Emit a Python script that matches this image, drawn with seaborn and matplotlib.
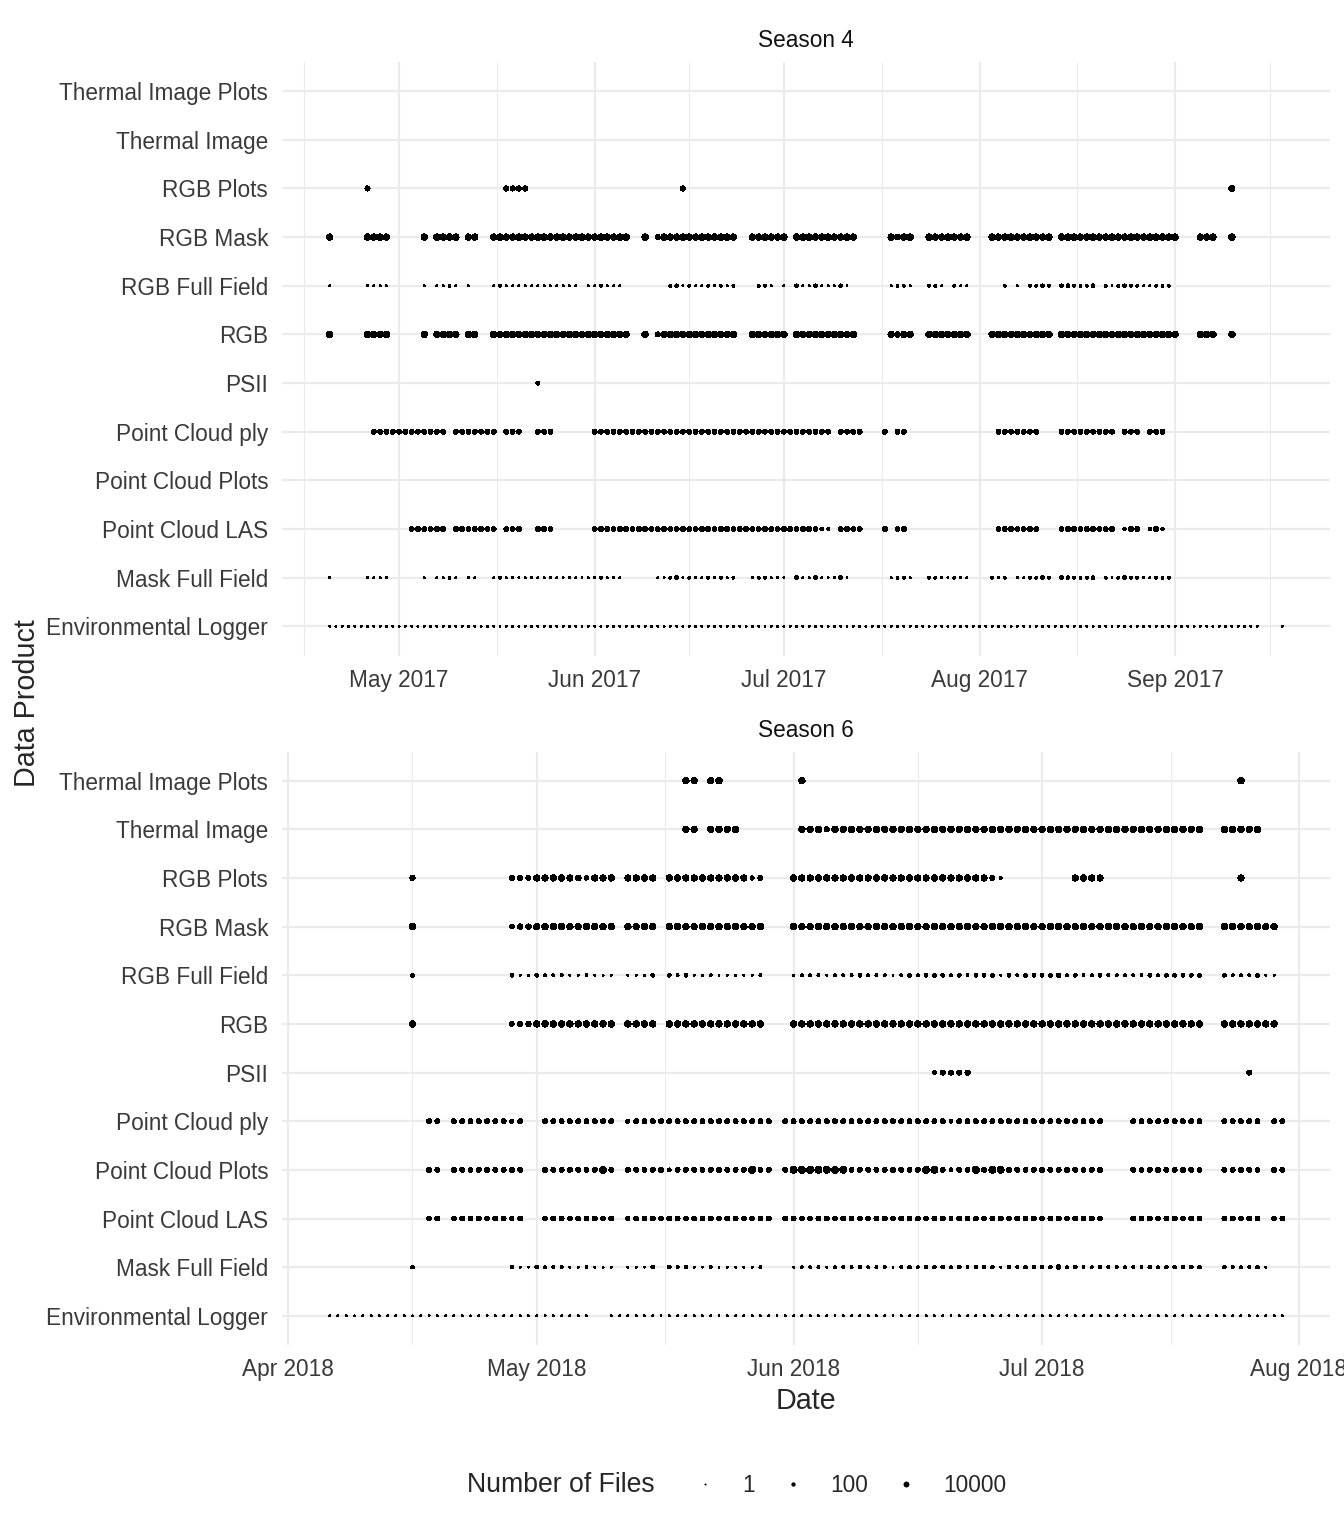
import matplotlib
matplotlib.use("Agg")
import matplotlib.pyplot as plt
import matplotlib.dates as mdates
from matplotlib.lines import Line2D
import numpy as np
import pandas as pd
import seaborn as sns

# y order, bottom to top
PRODUCTS = [
    "Environmental Logger", "Mask Full Field", "Point Cloud LAS",
    "Point Cloud Plots", "Point Cloud ply", "PSII", "RGB",
    "RGB Full Field", "RGB Mask", "RGB Plots", "Thermal Image",
    "Thermal Image Plots",
]
SEASONS = ["Season 4", "Season 6"]
LEGEND_BREAKS = [1, 100, 10000]

# runs of days: (first day, last day, files per day)

# ---- Season 4 (2017)
S4_ENV_LOGGER = [("2017-04-20", "2017-09-14", 1), ("2017-09-18", "2017-09-18", 1)]

S4_MASK_FULL_FIELD = [
    ("2017-04-20", "2017-04-20", 1), ("2017-04-26", "2017-04-29", 1),
    ("2017-05-05", "2017-05-05", 1), ("2017-05-07", "2017-05-10", 1),
    ("2017-05-12", "2017-05-13", 1), ("2017-05-16", "2017-06-05", 1),
    ("2017-06-11", "2017-06-23", 1), ("2017-06-26", "2017-07-01", 1),
    ("2017-07-03", "2017-07-11", 1), ("2017-07-18", "2017-07-21", 1),
    ("2017-07-24", "2017-07-30", 1), ("2017-08-03", "2017-08-05", 1),
    ("2017-08-07", "2017-08-12", 1), ("2017-08-14", "2017-08-19", 1),
    ("2017-08-21", "2017-08-31", 1),
]
S4_RGB_FULL_FIELD = [
    ("2017-04-20", "2017-04-20", 1), ("2017-04-26", "2017-04-29", 1),
    ("2017-05-05", "2017-05-05", 1), ("2017-05-07", "2017-05-10", 1),
    ("2017-05-12", "2017-05-12", 1), ("2017-05-16", "2017-05-29", 1),
    ("2017-05-31", "2017-06-05", 1), ("2017-06-13", "2017-06-23", 1),
    ("2017-06-27", "2017-06-29", 1), ("2017-07-01", "2017-07-01", 1),
    ("2017-07-03", "2017-07-11", 1), ("2017-07-18", "2017-07-21", 1),
    ("2017-07-24", "2017-07-26", 1), ("2017-07-28", "2017-07-30", 1),
    ("2017-08-05", "2017-08-05", 1), ("2017-08-07", "2017-08-07", 1),
    ("2017-08-09", "2017-08-12", 1), ("2017-08-14", "2017-08-19", 1),
    ("2017-08-21", "2017-08-31", 1),
]
# full field days that stand out from the 1-file days
S4_FULL_FIELD_DAYS = {
    "2017-05-09": 4, "2017-05-17": 4, "2017-06-02": 4, "2017-06-13": 4,
    "2017-06-14": 20, "2017-06-16": 4, "2017-06-19": 4, "2017-06-21": 4,
    "2017-06-23": 4, "2017-06-27": 4, "2017-06-28": 4, "2017-07-03": 20,
    "2017-07-06": 20, "2017-07-10": 20, "2017-07-19": 4, "2017-07-20": 4,
    "2017-07-24": 4, "2017-07-25": 4, "2017-07-28": 4, "2017-08-03": 4,
    "2017-08-05": 4, "2017-08-09": 4, "2017-08-10": 4, "2017-08-11": 20,
    "2017-08-12": 4, "2017-08-14": 20, "2017-08-15": 20, "2017-08-16": 4,
    "2017-08-17": 4, "2017-08-18": 4, "2017-08-19": 20, "2017-08-21": 4,
    "2017-08-23": 4, "2017-08-24": 20, "2017-08-25": 4, "2017-08-26": 4,
    "2017-08-29": 4, "2017-08-30": 4, "2017-08-31": 4,
}

S4_PC_LAS = [
    ("2017-05-03", "2017-05-08", 500), ("2017-05-10", "2017-05-16", 500),
    ("2017-05-18", "2017-05-20", 500), ("2017-05-23", "2017-05-25", 500),
    ("2017-06-01", "2017-07-06", 500), ("2017-07-07", "2017-07-07", 30),
    ("2017-07-08", "2017-07-08", 4), ("2017-07-10", "2017-07-13", 500),
    ("2017-07-17", "2017-07-17", 500), ("2017-07-19", "2017-07-20", 500),
    ("2017-08-04", "2017-08-10", 500), ("2017-08-14", "2017-08-22", 500),
    ("2017-08-24", "2017-08-24", 10), ("2017-08-25", "2017-08-26", 500),
    ("2017-08-28", "2017-08-28", 10), ("2017-08-29", "2017-08-29", 500),
    ("2017-08-30", "2017-08-30", 10),
]
S4_PC_PLY = [
    ("2017-04-27", "2017-05-08", 500), ("2017-05-10", "2017-05-16", 500),
    ("2017-05-18", "2017-05-20", 500), ("2017-05-23", "2017-05-25", 500),
    ("2017-06-01", "2017-07-08", 500), ("2017-07-10", "2017-07-13", 500),
    ("2017-07-17", "2017-07-17", 500), ("2017-07-19", "2017-07-20", 500),
    ("2017-08-04", "2017-08-10", 500), ("2017-08-14", "2017-08-22", 500),
    ("2017-08-24", "2017-08-26", 500), ("2017-08-28", "2017-08-30", 500),
]
S4_PSII = [("2017-05-23", "2017-05-23", 40)]

S4_RGB_MASK = [
    ("2017-04-20", "2017-04-20", 50000), ("2017-04-26", "2017-04-29", 50000),
    ("2017-05-05", "2017-05-05", 50000), ("2017-05-07", "2017-05-10", 50000),
    ("2017-05-12", "2017-05-13", 50000), ("2017-05-16", "2017-06-06", 50000),
    ("2017-06-09", "2017-06-09", 50000), ("2017-06-11", "2017-06-11", 1000),
    ("2017-06-12", "2017-06-23", 50000), ("2017-06-26", "2017-07-01", 50000),
    ("2017-07-03", "2017-07-12", 50000), ("2017-07-18", "2017-07-18", 50000),
    ("2017-07-19", "2017-07-19", 3000), ("2017-07-20", "2017-07-21", 50000),
    ("2017-07-24", "2017-07-30", 50000), ("2017-08-03", "2017-08-12", 50000),
    ("2017-08-14", "2017-09-01", 50000), ("2017-09-05", "2017-09-07", 50000),
    ("2017-09-10", "2017-09-10", 50000),
]
S4_RGB = list(S4_RGB_MASK)  # same days and counts as the mask
S4_RGB_PLOTS = [
    ("2017-04-26", "2017-04-26", 1000), ("2017-05-18", "2017-05-21", 1000),
    ("2017-06-15", "2017-06-15", 1000), ("2017-09-10", "2017-09-10", 30000),
]

# ---- Season 6 (2018)
S6_ENV_LOGGER = [("2018-04-06", "2018-05-07", 1), ("2018-05-10", "2018-07-30", 1)]

S6_MASK_FULL_FIELD = [
    ("2018-04-16", "2018-04-16", 1), ("2018-04-28", "2018-05-10", 1),
    ("2018-05-12", "2018-05-15", 1), ("2018-05-17", "2018-05-28", 1),
    ("2018-06-01", "2018-07-20", 4), ("2018-07-23", "2018-07-28", 4),
]
S6_RGB_FULL_FIELD = [
    ("2018-04-16", "2018-04-16", 1), ("2018-04-28", "2018-05-10", 1),
    ("2018-05-12", "2018-05-15", 1), ("2018-05-17", "2018-05-28", 1),
    ("2018-06-01", "2018-07-20", 4), ("2018-07-23", "2018-07-29", 4),
]
S6_FULL_FIELD_DAYS = {
    "2018-04-16": 20, "2018-04-28": 20, "2018-05-01": 20, "2018-05-02": 4,
    "2018-05-03": 4, "2018-05-04": 4, "2018-05-07": 4, "2018-05-15": 20,
    "2018-05-17": 20, "2018-05-18": 4, "2018-05-19": 20, "2018-05-22": 4,
    "2018-05-28": 4, "2018-06-01": 1, "2018-06-05": 1, "2018-06-09": 20,
    "2018-06-13": 1, "2018-06-15": 20, "2018-06-17": 20, "2018-06-18": 20,
    "2018-06-19": 20, "2018-06-21": 20, "2018-06-23": 20, "2018-06-24": 20,
    "2018-06-25": 20, "2018-06-26": 1, "2018-06-27": 20, "2018-06-29": 20,
    "2018-06-30": 20, "2018-07-01": 20, "2018-07-02": 20, "2018-07-03": 200,
    "2018-07-05": 20, "2018-07-08": 20, "2018-07-14": 20, "2018-07-16": 20,
    "2018-07-17": 20, "2018-07-18": 20, "2018-07-19": 20, "2018-07-20": 20,
    "2018-07-23": 20, "2018-07-27": 20, "2018-07-28": 1, "2018-07-29": 1,
}

S6_PC_PLY = [
    ("2018-04-18", "2018-04-19", 500), ("2018-04-21", "2018-04-27", 500),
    ("2018-04-28", "2018-04-28", 80), ("2018-04-29", "2018-04-29", 500),
    ("2018-05-02", "2018-05-10", 500), ("2018-05-12", "2018-05-12", 80),
    ("2018-05-13", "2018-05-29", 500), ("2018-05-31", "2018-06-19", 500),
    ("2018-06-20", "2018-06-20", 30), ("2018-06-21", "2018-07-08", 500),
    ("2018-07-12", "2018-07-20", 500), ("2018-07-23", "2018-07-27", 500),
    ("2018-07-29", "2018-07-30", 500),
]
S6_PC_LAS = list(S6_PC_PLY)  # same days and counts as the ply files
S6_PC_PLOTS = [
    ("2018-04-18", "2018-04-19", 500), ("2018-04-21", "2018-04-29", 500),
    ("2018-05-02", "2018-05-08", 500), ("2018-05-09", "2018-05-09", 300000),
    ("2018-05-10", "2018-05-10", 500), ("2018-05-12", "2018-05-16", 500),
    ("2018-05-17", "2018-05-17", 30), ("2018-05-18", "2018-05-26", 500),
    ("2018-05-27", "2018-05-27", 300000), ("2018-05-28", "2018-05-29", 500),
    ("2018-05-31", "2018-05-31", 500), ("2018-06-01", "2018-06-07", 300000),
    ("2018-06-08", "2018-06-16", 500), ("2018-06-17", "2018-06-18", 300000),
    ("2018-06-19", "2018-06-19", 500), ("2018-06-20", "2018-06-20", 30),
    ("2018-06-21", "2018-06-22", 500), ("2018-06-23", "2018-06-23", 300000),
    ("2018-06-24", "2018-06-24", 500), ("2018-06-25", "2018-06-26", 300000),
    ("2018-06-27", "2018-07-08", 500), ("2018-07-12", "2018-07-20", 500),
    ("2018-07-23", "2018-07-27", 500), ("2018-07-29", "2018-07-30", 500),
]
S6_PSII = [
    ("2018-06-18", "2018-06-18", 15), ("2018-06-19", "2018-06-22", 1000),
    ("2018-07-26", "2018-07-26", 1000),
]

S6_RGB_MASK = [
    ("2018-04-16", "2018-04-16", 50000), ("2018-04-28", "2018-04-28", 200),
    ("2018-04-29", "2018-04-30", 2000), ("2018-05-01", "2018-05-10", 50000),
    ("2018-05-12", "2018-05-15", 50000), ("2018-05-17", "2018-05-28", 50000),
    ("2018-06-01", "2018-07-20", 50000), ("2018-07-23", "2018-07-29", 50000),
]
S6_RGB = list(S6_RGB_MASK)  # same days and counts as the mask
S6_RGB_PLOTS = [
    ("2018-04-16", "2018-04-16", 1000), ("2018-04-28", "2018-04-30", 800),
    ("2018-05-01", "2018-05-05", 30000), ("2018-05-06", "2018-05-06", 8000),
    ("2018-05-07", "2018-05-07", 80), ("2018-05-08", "2018-05-10", 30000),
    ("2018-05-12", "2018-05-15", 30000), ("2018-05-17", "2018-05-26", 30000),
    ("2018-05-27", "2018-05-27", 80), ("2018-05-28", "2018-05-28", 800),
    ("2018-06-01", "2018-06-24", 30000), ("2018-06-25", "2018-06-25", 800),
    ("2018-06-26", "2018-06-26", 4), ("2018-07-05", "2018-07-08", 30000),
    ("2018-07-25", "2018-07-25", 30000),
]
S6_THERMAL = [
    ("2018-05-19", "2018-05-20", 50000), ("2018-05-22", "2018-05-25", 50000),
    ("2018-06-02", "2018-06-04", 50000), ("2018-06-05", "2018-06-05", 1000),
    ("2018-06-06", "2018-07-20", 50000), ("2018-07-23", "2018-07-27", 50000),
]
S6_THERMAL_PLOTS = [
    ("2018-05-19", "2018-05-20", 50000), ("2018-05-22", "2018-05-23", 50000),
    ("2018-06-02", "2018-06-02", 50000), ("2018-07-25", "2018-07-25", 50000),
]

TABLE = [
    ("Season 4", "Environmental Logger", S4_ENV_LOGGER, None),
    ("Season 4", "Mask Full Field", S4_MASK_FULL_FIELD, S4_FULL_FIELD_DAYS),
    ("Season 4", "Point Cloud LAS", S4_PC_LAS, None),
    ("Season 4", "Point Cloud ply", S4_PC_PLY, None),
    ("Season 4", "PSII", S4_PSII, None),
    ("Season 4", "RGB", S4_RGB, None),
    ("Season 4", "RGB Full Field", S4_RGB_FULL_FIELD, S4_FULL_FIELD_DAYS),
    ("Season 4", "RGB Mask", S4_RGB_MASK, None),
    ("Season 4", "RGB Plots", S4_RGB_PLOTS, None),
    ("Season 6", "Environmental Logger", S6_ENV_LOGGER, None),
    ("Season 6", "Mask Full Field", S6_MASK_FULL_FIELD, S6_FULL_FIELD_DAYS),
    ("Season 6", "Point Cloud LAS", S6_PC_LAS, None),
    ("Season 6", "Point Cloud Plots", S6_PC_PLOTS, None),
    ("Season 6", "Point Cloud ply", S6_PC_PLY, None),
    ("Season 6", "PSII", S6_PSII, None),
    ("Season 6", "RGB", S6_RGB, None),
    ("Season 6", "RGB Full Field", S6_RGB_FULL_FIELD, S6_FULL_FIELD_DAYS),
    ("Season 6", "RGB Mask", S6_RGB_MASK, None),
    ("Season 6", "RGB Plots", S6_RGB_PLOTS, None),
    ("Season 6", "Thermal Image", S6_THERMAL, None),
    ("Season 6", "Thermal Image Plots", S6_THERMAL_PLOTS, None),
]

DPI = 192


def dot_diameter(n):
    # diameter in points, grows with log10 of the file count
    px = 2.0 + 1.38 * np.log10(n) ** 0.75
    return px * 72 / DPI


def daily_rows(season, product, runs, day_counts=None):
    rows = []
    for first, last, files in runs:
        for day in pd.date_range(first, last, freq="D"):
            n = files
            key = day.strftime("%Y-%m-%d")
            if day_counts and key in day_counts:
                n = day_counts[key]
            rows.append({"season": season, "product": product, "date": day, "files": n})
    return rows


rows = []
for season, product, runs, extra in TABLE:
    rows += daily_rows(season, product, runs, extra)
df = pd.DataFrame(rows)
df["row"] = df["product"].map({p: i for i, p in enumerate(PRODUCTS)})

size_map = {n: dot_diameter(n) ** 2 for n in sorted(df["files"].unique())}

sns.set_style("white")
plt.rcParams["font.family"] = ["Liberation Sans", "DejaVu Sans"]

W, H = 1344, 1536
fig, axes = plt.subplots(2, 1, figsize=(W / DPI, H / DPI), dpi=DPI)
fig.subplots_adjust(left=282 / W, right=1330 / W, top=1 - 62 / H,
                    bottom=1 - 1345 / H, hspace=96 / 593.5)

GRID = "#EBEBEB"
TICK_COLOR = "#3A3A3A"

for ax, season in zip(axes, SEASONS):
    sub = df[df["season"] == season]
    # crisp, un-smoothed dots like the original device output
    sns.scatterplot(data=sub, x="date", y="row", size="files", sizes=size_map,
                    color="black", linewidth=0, edgecolor="none",
                    antialiased=False, legend=False, ax=ax)
    ax.set_ylim(-0.6, len(PRODUCTS) - 0.4)
    ax.set_yticks(range(len(PRODUCTS)))
    ax.set_yticklabels(PRODUCTS)

    ax.xaxis.set_major_locator(mdates.MonthLocator())
    ax.xaxis.set_major_formatter(mdates.DateFormatter("%b %Y"))
    lo, hi = ax.get_xlim()
    first = pd.Timestamp(mdates.num2date(lo).replace(tzinfo=None)).to_period("M").start_time
    months = pd.date_range(first - pd.DateOffset(months=1),
                           pd.Timestamp(mdates.num2date(hi).replace(tzinfo=None)) + pd.DateOffset(months=1),
                           freq="MS")
    nums = mdates.date2num(months)
    mids = (nums[:-1] + nums[1:]) / 2
    ax.set_xticks(mids[(mids > lo) & (mids < hi)], minor=True)
    ax.set_xlim(lo, hi)

    ax.grid(which="major", color=GRID, linewidth=0.8)
    ax.grid(which="minor", axis="x", color=GRID, linewidth=0.4)
    ax.set_axisbelow(True)
    for s in ax.spines.values():
        s.set_visible(False)
    ax.tick_params(which="both", length=0)
    ax.tick_params(axis="x", pad=5.0, labelsize=8.5, labelcolor=TICK_COLOR)
    ax.tick_params(axis="y", pad=5.2, labelsize=8.5, labelcolor=TICK_COLOR)
    ax.set_xlabel("")
    ax.set_ylabel("")
    ax.set_title(season, fontsize=8.5, color="#111111", pad=5.6)

fig.text(806 / W, 1 - 1401 / H, "Date", ha="center", va="center", fontsize=10.8)
fig.text(27 / W, 1 - 703 / H, "Data Product", ha="center", va="center",
         rotation=90, fontsize=10.8)

# size legend along the bottom
fig.text(467 / W, 1 - 1485 / H, "Number of Files", ha="left", va="center", fontsize=10)
handles = [Line2D([], [], linestyle="", marker="o", color="black",
                  markeredgewidth=0, markersize=dot_diameter(n),
                  antialiased=False) for n in LEGEND_BREAKS]
fig.legend(handles, [str(n) for n in LEGEND_BREAKS], loc="center left",
           bbox_to_anchor=(694 / W, 1 - 1485 / H), ncol=3, frameon=False,
           fontsize=8.5, handlelength=1.0, handletextpad=1.12,
           columnspacing=1.2, borderpad=0, borderaxespad=0)

fig.savefig("out.png", dpi=DPI, facecolor="white")
